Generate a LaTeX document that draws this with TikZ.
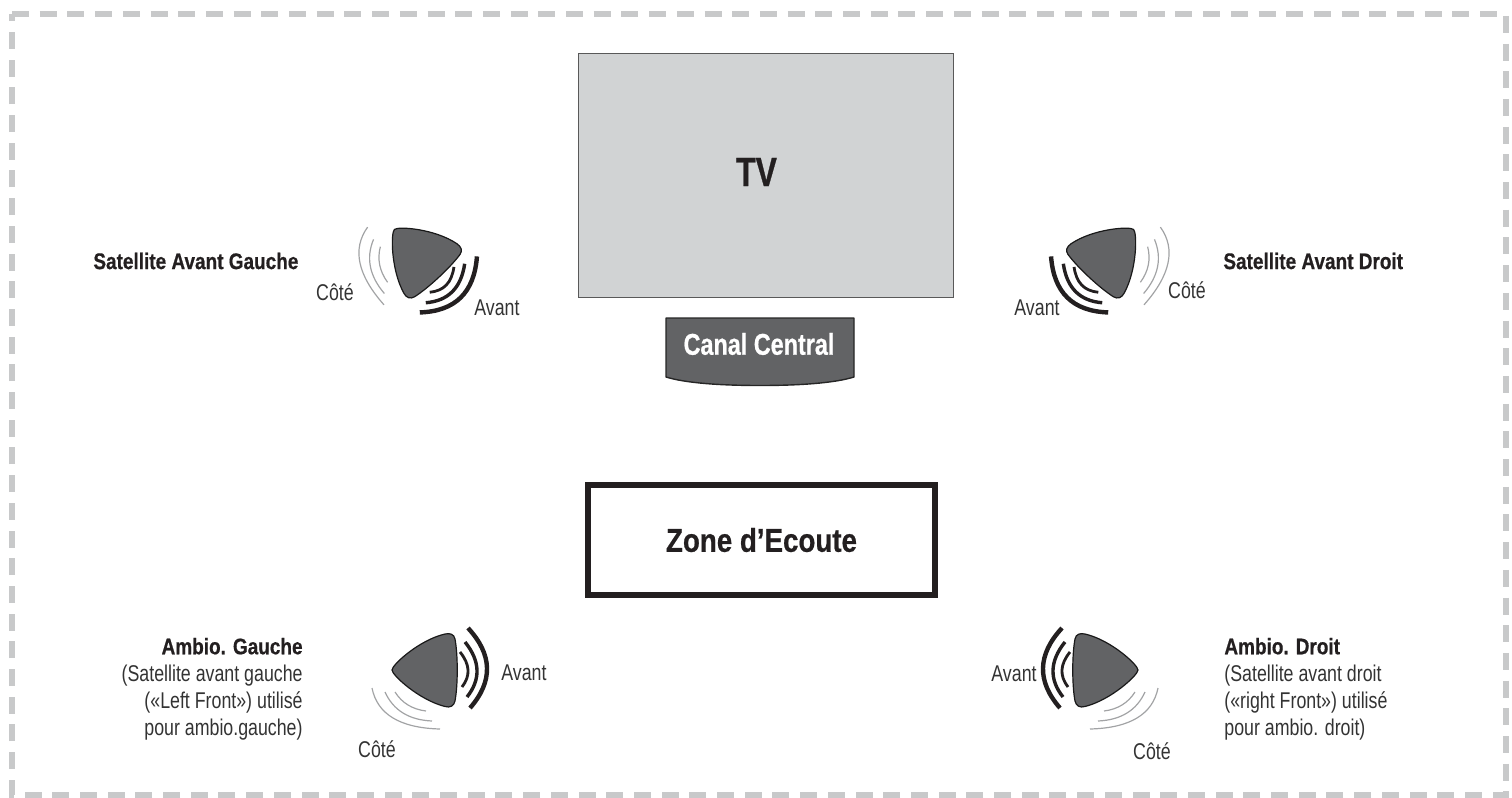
\documentclass[tikz,border=0pt]{standalone}
\usepackage{fontspec}
\setmainfont[FakeStretch=0.78]{Liberation Sans}
\newfontfamily\widerbold[FakeStretch=0.84,FakeBold=0.6]{Liberation Sans Bold}
\newfontfamily\narrowbold[FakeStretch=0.78,FakeBold=0.6]{Liberation Sans Bold}
\definecolor{bordergray}{HTML}{C8C9CA}
\definecolor{tvgray}{HTML}{D1D3D4}
\definecolor{spkgray}{HTML}{626365}
\definecolor{wavegray}{HTML}{A2A3A5}
\definecolor{inkgray}{HTML}{231F20}
\tikzset{
  x=0.5pt,y=-0.5pt,
  lbl/.style={font=\fontsize{11.4}{13.5}\selectfont,text=black!80,inner sep=0pt},
  ttl/.style={font=\fontsize{11.3}{13.5}\selectfont\widerbold,text=inkgray,inner sep=0pt},
  spkbody/.style={fill=spkgray,draw=black!90,line width=0.6pt,line join=round},
  wavefront/.style={draw=inkgray,line cap=butt},
  waveside/.style={draw=wavegray,line width=0.6pt}
}
\newcommand{\speakerdraw}[4]{%
  \begin{scope}[shift={(#1,#2)},xscale=#4,rotate=#3]
    \path[spkbody] (-39,0) .. controls (-39,-5) and (-12,-30) .. (14,-36)
      .. controls (19,-37) and (23,-36) .. (24,-31)
      .. controls (27,-15) and (27,15) .. (24,31)
      .. controls (23,36) and (19,38) .. (14,36.5)
      .. controls (-12,30) and (-39,5) .. cycle;
    \draw[wavefront,line width=2.2pt] (37,-42) .. controls (61.7,-15.3) and (62.3,11.3) .. (39,38);
    \draw[wavefront,line width=1.7pt] (34,-28) .. controls (49.3,-9) and (50,9.3) .. (36,27);
    \draw[wavefront,line width=1.4pt] (29,-18) .. controls (39,-5.7) and (39.7,5.7) .. (31,17);
    \draw[waveside] (-59,18) .. controls (-53.7,44.3) and (-31,58) .. (9,59);
    \draw[waveside] (-46,22) .. controls (-37.7,40.3) and (-22,50) .. (1,51);
    \draw[waveside] (-36,22) .. controls (-29,33) and (-18.7,39.3) .. (-5,41);
  \end{scope}}
\begin{document}
\begin{tikzpicture}
\useasboundingbox (0,0) rectangle (1512,798);
% dashed frame
\draw[bordergray,line width=3pt,dash pattern=on 8.5pt off 5.35pt] (12,14) -- (1506,14) -- (1506,795) -- (12,795) -- cycle;
% TV
\node[draw=black!65,fill=tvgray,line width=0.5pt,minimum width=187.5pt,minimum height=122pt,inner sep=0pt] (tv) at (765.5,175) {};
\node[font=\fontsize{20.5}{24}\selectfont\narrowbold,text=inkgray,inner sep=0pt] (tvlabel) at (756.5,172) {TV};
% centre channel
\path[fill=spkgray,draw=black!85,line width=0.7pt,line join=round] (666,318) -- (854,318) -- (854,377)
   .. controls (835,383) and (800,385.5) .. (760,385.5) .. controls (720,385.5) and (685,383) .. (666,377) -- cycle;
\node[font=\fontsize{15}{17}\selectfont\narrowbold,text=white,inner sep=0pt] (canal) at (759,344) {Canal Central};
% listening zone
\node[draw=inkgray,line width=3pt,fill=white,minimum width=173.5pt,minimum height=55pt,inner sep=0pt,
  font=\fontsize{16.5}{19}\selectfont\widerbold,text=inkgray] (zone) at (761.5,540) {Zone d’Ecoute};
% speakers
\speakerdraw{421}{258}{-47}{1}
\speakerdraw{1107}{258}{-47}{-1}
\speakerdraw{431}{670}{0}{1}
\speakerdraw{1099}{670}{0}{-1}
% labels
\node[ttl,anchor=west] (tfl) at (93,261) {Satellite Avant Gauche};
\node[ttl,anchor=west] (tfr) at (1223,261) {Satellite Avant Droit};
\node[lbl] (cfl) at (335,292) {Côté};
\node[lbl] (afl) at (497,308) {Avant};
\node[lbl] (afr) at (1037,308) {Avant};
\node[lbl] (cfr) at (1187,290) {Côté};
\node[lbl] (aag) at (524,673) {Avant};
\node[lbl] (cag) at (377,749) {Côté};
\node[lbl] (aad) at (1014,674) {Avant};
\node[lbl] (cad) at (1152,751) {Côté};
\node[lbl,anchor=north east,align=right] (tag) at (303,637.5) {{\widerbold\fontsize{11.3}{13.5}\selectfont\textcolor{inkgray}{Ambio. Gauche}}\\(Satellite avant gauche\\(«Left Front») utilisé\\pour ambio.gauche)};
\node[lbl,anchor=north west,align=left] (tad) at (1224,637.5) {{\widerbold\fontsize{11.3}{13.5}\selectfont\textcolor{inkgray}{Ambio. Droit}}\\(Satellite avant droit\\(«right Front») utilisé\\pour ambio. droit)};
\end{tikzpicture}
\end{document}
